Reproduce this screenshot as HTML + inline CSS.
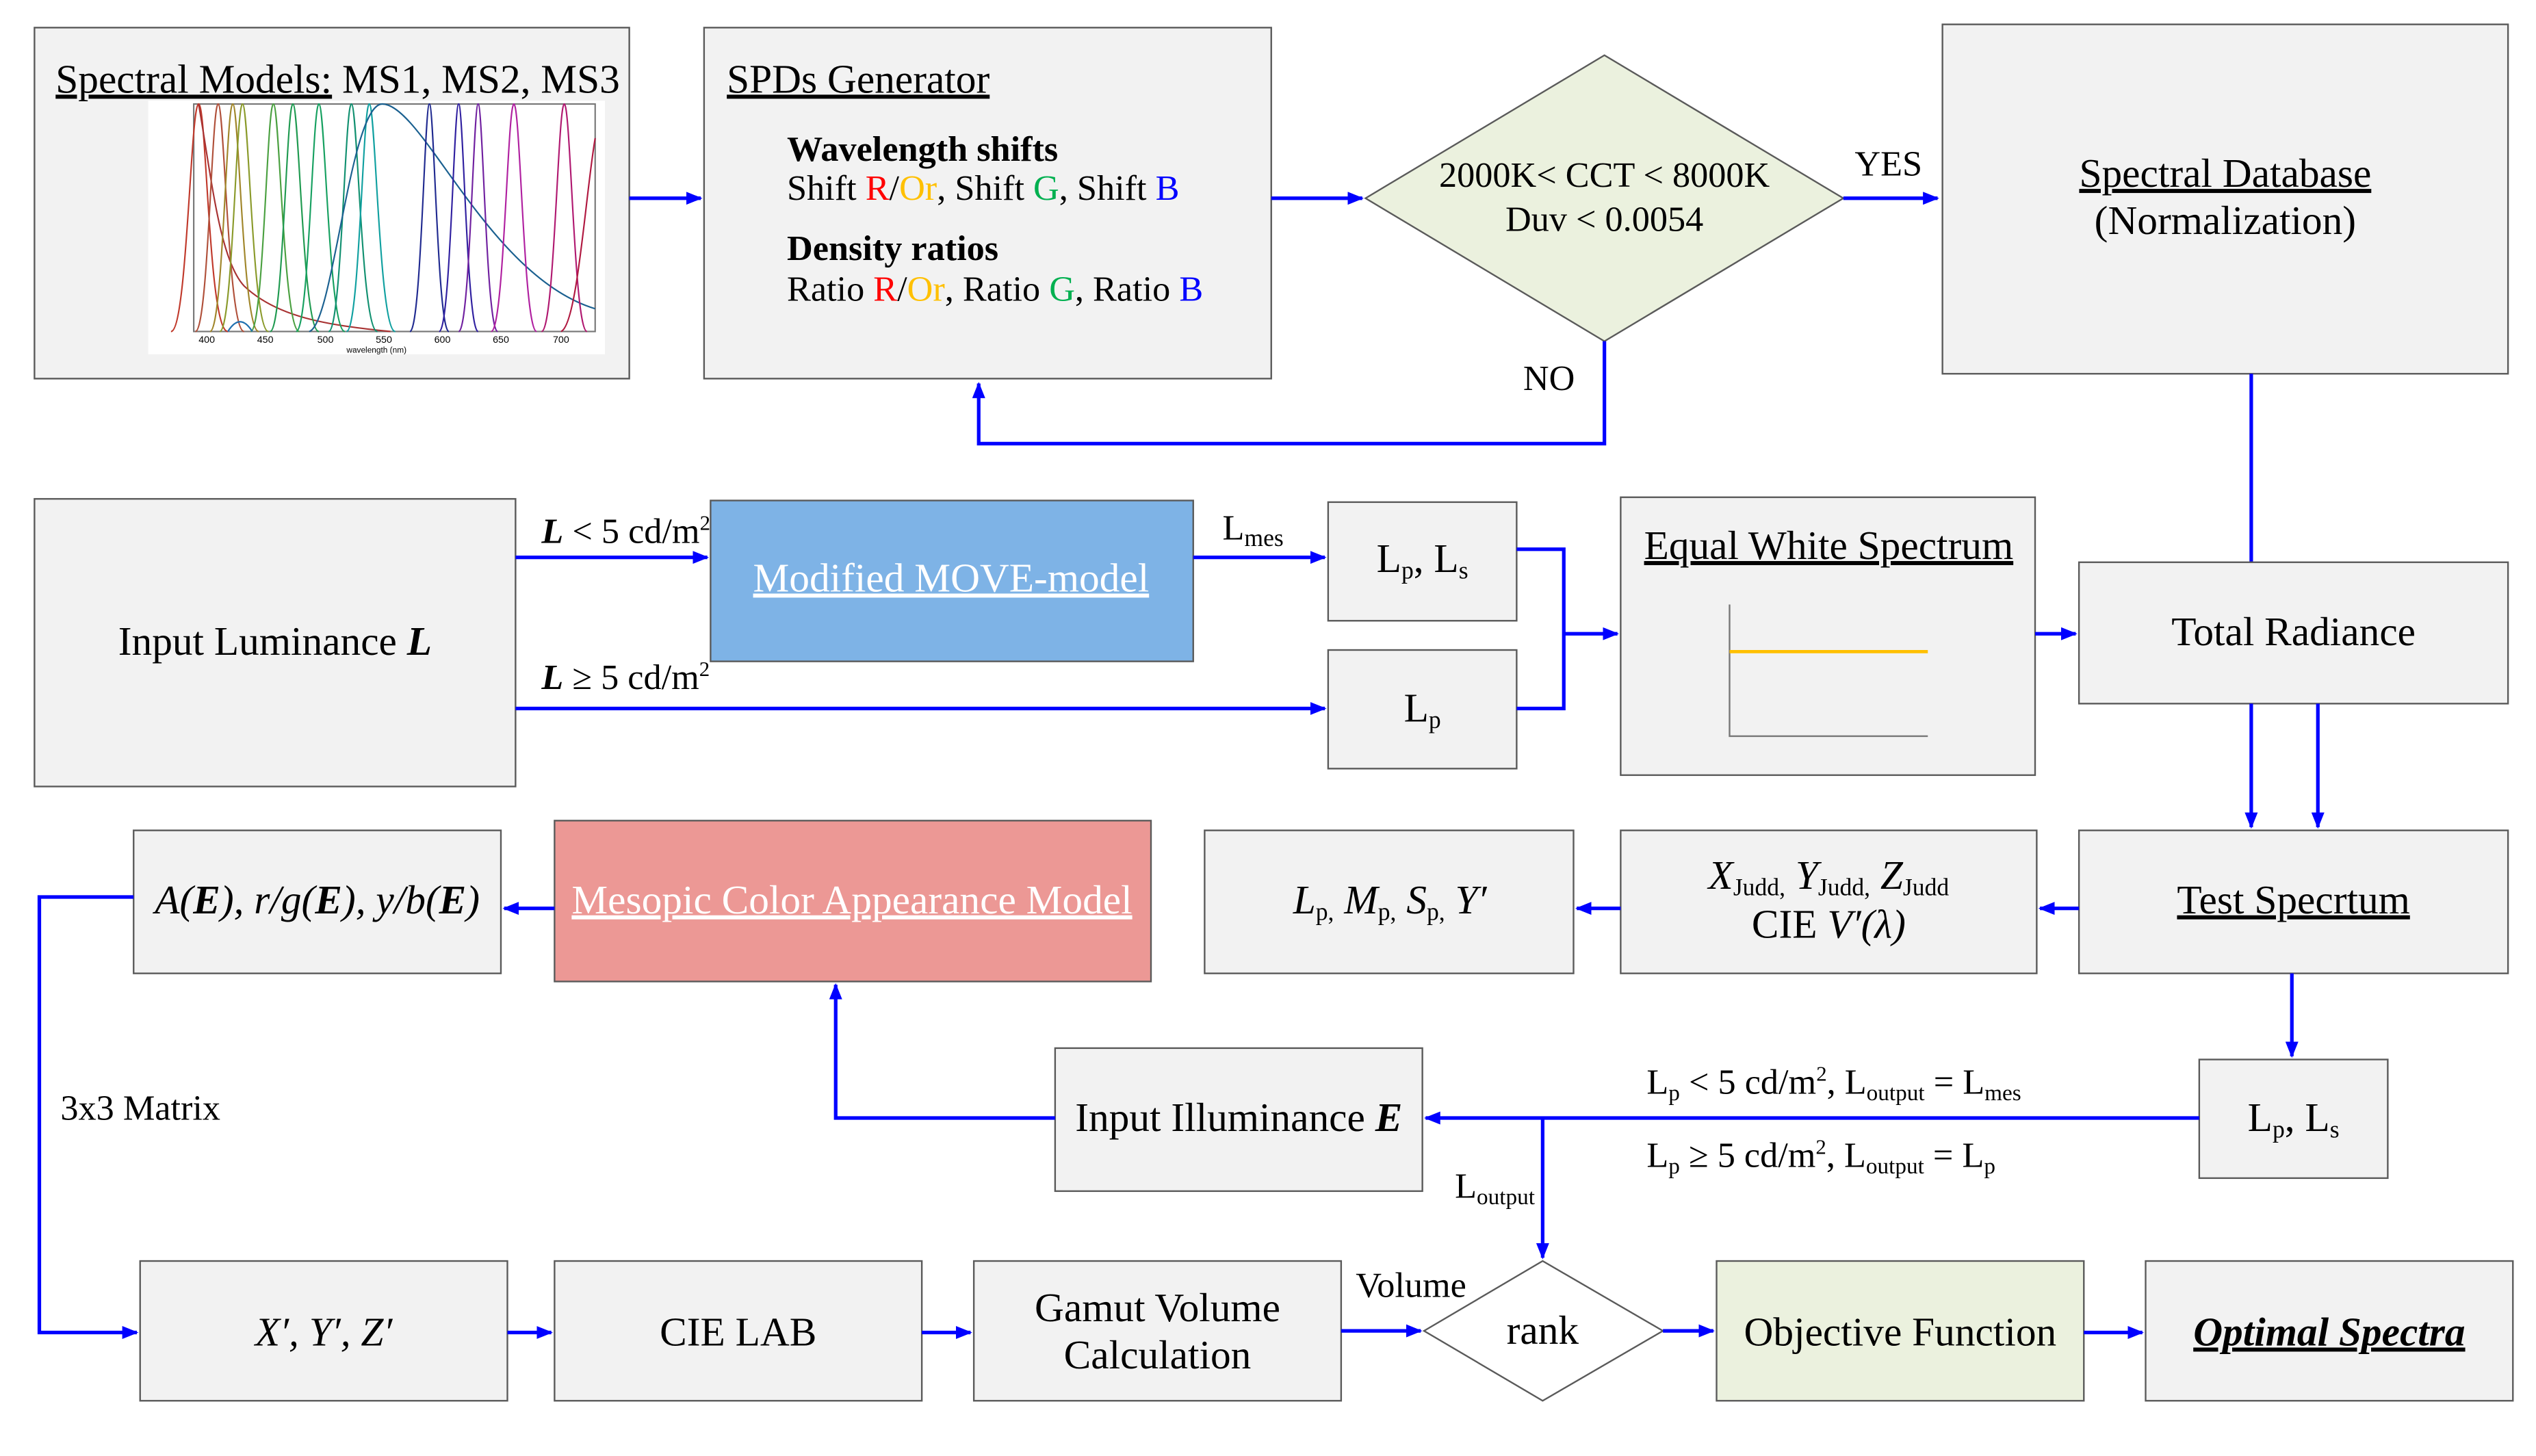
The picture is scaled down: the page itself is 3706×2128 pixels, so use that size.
<!DOCTYPE html>
<html><head><meta charset="utf-8">
<style>
html,body{margin:0;padding:0;background:#fff;}
svg{display:block;font-family:"Liberation Serif","Times New Roman",serif;}
text{font-family:"Liberation Serif","Times New Roman",serif;fill:#000;}
.b{fill:#f2f2f2;stroke:#5a5a5a;stroke-width:1;}
.a{stroke:#0000ff;stroke-width:2.2;fill:none;}
.t{font-size:25px;}
.s{font-size:22px;}
</style></head><body>
<svg width="3706" height="2128" viewBox="0 0 1560 896" xmlns="http://www.w3.org/2000/svg" font-family="Liberation Serif, serif">
<defs>
<marker id="ar" markerWidth="10" markerHeight="8" refX="9" refY="4" orient="auto" markerUnits="userSpaceOnUse">
<path d="M0,0 L10,4 L0,8 z" fill="#0000ff"/></marker>
</defs>

<!-- Row 1 -->
<rect class="b" x="21" y="17" width="366" height="216"/>
<text x="34" y="57" class="t"><tspan text-decoration="underline">Spectral Models:</tspan> MS1, MS2, MS3</text>
<rect x="91" y="62" width="281" height="156" fill="#fff"/>
<g fill="none" stroke-width="0.9">
<rect x="119" y="64" width="247" height="140" stroke="#777"/>
<path d="M105,204 C115,204 117,64 122,64 C127,64 128,204 140,204" stroke="#c0392b"/>
<path d="M122,64 C130,110 135,160 150,176 C170,195 200,200 240,204" stroke="#a83232"/>
<path d="M120,204 C128,204 130,64 134,64 C138,64 140,204 150,204" stroke="#b0503a"/>
<path d="M129,204 C137,204 139,64 143,64 C147,64 149,204 159,204" stroke="#a0862a"/>
<path d="M135,204 C143,204 145,64 149,64 C153,64 155,204 165,204" stroke="#8a9a2a"/>
<path d="M154,204 C162,204 164,64 168,64 C172,64 174,204 184,204" stroke="#4aa040"/>
<path d="M166,204 C174,204 176,64 180,64 C184,64 186,204 196,204" stroke="#1f9a50"/>
<path d="M182,204 C190,204 192,64 196,64 C200,64 202,204 212,204" stroke="#16a060"/>
<path d="M202,204 C210,204 212,64 216,64 C220,64 222,204 232,204" stroke="#119070"/>
<path d="M213,204 C221,204 223,64 227,64 C231,64 233,204 243,204" stroke="#10a0a0"/>
<path d="M140,204 C145,196 150,196 155,204" stroke="#2070b0"/>
<path d="M190,204 C205,200 215,64 235,64 C260,64 300,170 366,190" stroke="#1a6090"/>
<path d="M252,204 C259,204 261,64 264,64 C267,64 269,204 276,204" stroke="#202a90"/>
<path d="M270,204 C277,204 279,64 282,64 C285,64 287,204 294,204" stroke="#3020a0"/>
<path d="M282,204 C289,204 291,64 294,64 C297,64 299,204 306,204" stroke="#7020a0"/>
<path d="M302,204 C310,204 312,64 316,64 C320,64 322,204 330,204" stroke="#b020a0"/>
<path d="M333,204 C341,204 343,64 347,64 C351,64 353,204 361,204" stroke="#b01870"/>
<path d="M345,204 C355,200 360,120 366,85" stroke="#b01840"/>
</g>
<g>
<text x="122" y="211" style="font-family:'Liberation Sans',sans-serif;font-size:6px">400</text>
<text x="158" y="211" style="font-family:'Liberation Sans',sans-serif;font-size:6px">450</text>
<text x="195" y="211" style="font-family:'Liberation Sans',sans-serif;font-size:6px">500</text>
<text x="231" y="211" style="font-family:'Liberation Sans',sans-serif;font-size:6px">550</text>
<text x="267" y="211" style="font-family:'Liberation Sans',sans-serif;font-size:6px">600</text>
<text x="303" y="211" style="font-family:'Liberation Sans',sans-serif;font-size:6px">650</text>
<text x="340" y="211" style="font-family:'Liberation Sans',sans-serif;font-size:6px">700</text>
<text x="213" y="217" style="font-family:'Liberation Sans',sans-serif;font-size:5px">wavelength (nm)</text>
</g>

<rect class="b" x="433" y="17" width="349" height="216"/>
<text x="447" y="57" class="t" text-decoration="underline">SPDs Generator</text>
<text x="484" y="99" class="s" font-weight="bold">Wavelength shifts</text>
<text x="484" y="123" class="s">Shift <tspan fill="#ff0000">R</tspan>/<tspan fill="#ffc000">Or</tspan>, Shift <tspan fill="#00b050">G</tspan>, Shift <tspan fill="#0000ff">B</tspan></text>
<text x="484" y="160" class="s" font-weight="bold">Density ratios</text>
<text x="484" y="185" class="s">Ratio <tspan fill="#ff0000">R</tspan>/<tspan fill="#ffc000">Or</tspan>, Ratio <tspan fill="#00b050">G</tspan>, Ratio <tspan fill="#0000ff">B</tspan></text>

<polygon points="840,122 987,34 1134,122 987,210" fill="#ebf1de" stroke="#5a5a5a"/>
<text x="987" y="115" class="s" text-anchor="middle">2000K&lt; CCT &lt; 8000K</text>
<text x="987" y="142" class="s" text-anchor="middle">Duv &lt; 0.0054</text>

<rect class="b" x="1195" y="15" width="348" height="215"/>
<text x="1369" y="115" class="t" text-anchor="middle" text-decoration="underline">Spectral Database</text>
<text x="1369" y="144" class="t" text-anchor="middle">(Normalization)</text>

<path class="a" d="M387,122 H431" marker-end="url(#ar)"/>
<path class="a" d="M782,122 H838" marker-end="url(#ar)"/>
<path class="a" d="M1134,122 H1192" marker-end="url(#ar)"/>
<text x="1141" y="108" class="s">YES</text>
<path class="a" d="M987,210 V273 H602 V236" marker-end="url(#ar)"/>
<text x="937" y="240" class="s">NO</text>
<path class="a" d="M1385,230 V346"/>

<!-- Row 2 -->
<rect class="b" x="21" y="307" width="296" height="177"/>
<text x="169" y="403" class="t" text-anchor="middle">Input Luminance <tspan font-weight="bold" font-style="italic">L</tspan></text>
<rect x="437" y="308" width="297" height="99" fill="#7eb3e6" stroke="#5a5a5a"/>
<text x="585" y="364" class="t" text-anchor="middle" style="fill:#fff" text-decoration="underline">Modified MOVE-model</text>
<rect class="b" x="817" y="309" width="116" height="73"/>
<text x="875" y="352" class="t" text-anchor="middle">L<tspan font-size="15" dy="4">p</tspan><tspan dy="-4">, L</tspan><tspan font-size="15" dy="4">s</tspan></text>
<rect class="b" x="817" y="400" width="116" height="73"/>
<text x="875" y="444" class="t" text-anchor="middle">L<tspan font-size="15" dy="4">p</tspan></text>
<rect class="b" x="997" y="306" width="255" height="171"/>
<text x="1125" y="344" class="t" text-anchor="middle" text-decoration="underline">Equal White Spectrum</text>
<path d="M1064,372 V453 H1186" stroke="#777" fill="none" stroke-width="1"/>
<path d="M1064,401 H1186" stroke="#ffc000" stroke-width="2" fill="none"/>
<rect class="b" x="1279" y="346" width="264" height="87"/>
<text x="1411" y="397" class="t" text-anchor="middle">Total Radiance</text>

<path class="a" d="M317,343 H435" marker-end="url(#ar)"/>
<text x="333" y="334" class="s"><tspan font-weight="bold" font-style="italic">L</tspan> &lt; 5 cd/m<tspan font-size="13" dy="-8">2</tspan></text>
<path class="a" d="M734,343 H815" marker-end="url(#ar)"/>
<text x="752" y="332" class="s">L<tspan font-size="15" dy="4">mes</tspan></text>
<path class="a" d="M317,436 H815" marker-end="url(#ar)"/>
<text x="333" y="424" class="s"><tspan font-weight="bold" font-style="italic">L</tspan> ≥ 5 cd/m<tspan font-size="13" dy="-8">2</tspan></text>
<path class="a" d="M933,338 H962 V436 H933"/>
<path class="a" d="M962,390 H995" marker-end="url(#ar)"/>
<path class="a" d="M1252,390 H1277" marker-end="url(#ar)"/>
<path class="a" d="M1385,433 V509" marker-end="url(#ar)"/>
<path class="a" d="M1426,433 V509" marker-end="url(#ar)"/>

<!-- Row 3 -->
<rect class="b" x="82" y="511" width="226" height="88"/>
<text x="195" y="562" class="t" text-anchor="middle" font-style="italic">A(<tspan font-weight="bold">E</tspan>), r/g(<tspan font-weight="bold">E</tspan>), y/b(<tspan font-weight="bold">E</tspan>)</text>
<rect x="341" y="505" width="367" height="99" fill="#ec9895" stroke="#5a5a5a"/>
<text x="524" y="562" class="t" text-anchor="middle" style="fill:#fff" text-decoration="underline">Mesopic Color Appearance Model</text>
<rect class="b" x="741" y="511" width="227" height="88"/>
<text x="855" y="562" class="t" text-anchor="middle"><tspan font-style="italic">L</tspan><tspan font-size="15" dy="4">p,</tspan><tspan dy="-4" font-style="italic"> M</tspan><tspan font-size="15" dy="4">p,</tspan><tspan dy="-4" font-style="italic"> S</tspan><tspan font-size="15" dy="4">p,</tspan><tspan dy="-4" font-style="italic"> Y′</tspan></text>
<rect class="b" x="997" y="511" width="256" height="88"/>
<text x="1125" y="547" class="t" text-anchor="middle"><tspan font-style="italic">X</tspan><tspan font-size="15" dy="4">Judd,</tspan><tspan dy="-4" font-style="italic"> Y</tspan><tspan font-size="15" dy="4">Judd,</tspan><tspan dy="-4" font-style="italic"> Z</tspan><tspan font-size="15" dy="4">Judd</tspan></text>
<text x="1125" y="577" class="t" text-anchor="middle">CIE <tspan font-style="italic">V′(λ)</tspan></text>
<rect class="b" x="1279" y="511" width="264" height="88"/>
<text x="1411" y="562" class="t" text-anchor="middle" text-decoration="underline">Test Specrtum</text>

<path class="a" d="M1279,559 H1255" marker-end="url(#ar)"/>
<path class="a" d="M997,559 H970" marker-end="url(#ar)"/>
<path class="a" d="M341,559 H310" marker-end="url(#ar)"/>
<path class="a" d="M82,552 H24 V820 H84" marker-end="url(#ar)"/>
<text x="37" y="689" class="s">3x3 Matrix</text>
<path class="a" d="M1410,599 V650" marker-end="url(#ar)"/>

<rect class="b" x="1353" y="652" width="116" height="73"/>
<text x="1411" y="696" class="t" text-anchor="middle">L<tspan font-size="15" dy="4">p</tspan><tspan dy="-4">, L</tspan><tspan font-size="15" dy="4">s</tspan></text>
<rect class="b" x="649" y="645" width="226" height="88"/>
<text x="762" y="696" class="t" text-anchor="middle">Input Illuminance <tspan font-weight="bold" font-style="italic">E</tspan></text>
<path class="a" d="M1353,688 H877" marker-end="url(#ar)"/>
<text x="1013" y="673" class="s">L<tspan font-size="14" dy="4">p</tspan><tspan dy="-4"> &lt; 5 cd/m</tspan><tspan font-size="13" dy="-8">2</tspan><tspan dy="8">, L</tspan><tspan font-size="14" dy="4">output</tspan><tspan dy="-4"> = L</tspan><tspan font-size="14" dy="4">mes</tspan></text>
<text x="1013" y="718" class="s">L<tspan font-size="14" dy="4">p</tspan><tspan dy="-4"> ≥ 5 cd/m</tspan><tspan font-size="13" dy="-8">2</tspan><tspan dy="8">, L</tspan><tspan font-size="14" dy="4">output</tspan><tspan dy="-4"> = L</tspan><tspan font-size="14" dy="4">p</tspan></text>
<path class="a" d="M949,688 V774" marker-end="url(#ar)"/>
<text x="895" y="737" class="s">L<tspan font-size="14" dy="4">output</tspan></text>
<path class="a" d="M649,688 H514 V606" marker-end="url(#ar)"/>

<!-- Row 4 -->
<rect class="b" x="86" y="776" width="226" height="86"/>
<text x="199" y="828" class="t" text-anchor="middle" font-style="italic">X′, Y′, Z′</text>
<rect class="b" x="341" y="776" width="226" height="86"/>
<text x="454" y="828" class="t" text-anchor="middle">CIE LAB</text>
<rect class="b" x="599" y="776" width="226" height="86"/>
<text x="712" y="813" class="t" text-anchor="middle">Gamut Volume</text>
<text x="712" y="842" class="t" text-anchor="middle">Calculation</text>
<polygon points="876,819 949,776 1023,819 949,862" fill="#fff" stroke="#5a5a5a"/>
<text x="949" y="827" class="t" text-anchor="middle">rank</text>
<rect x="1056" y="776" width="226" height="86" fill="#ebf1de" stroke="#5a5a5a"/>
<text x="1169" y="828" class="t" text-anchor="middle">Objective Function</text>
<rect class="b" x="1320" y="776" width="226" height="86"/>
<text x="1433" y="828" class="t" text-anchor="middle" font-weight="bold" font-style="italic" text-decoration="underline">Optimal Spectra</text>

<path class="a" d="M312,820 H339" marker-end="url(#ar)"/>
<path class="a" d="M567,820 H597" marker-end="url(#ar)"/>
<path class="a" d="M825,819 H874" marker-end="url(#ar)"/>
<text x="834" y="798" class="s">Volume</text>
<path class="a" d="M1023,819 H1054" marker-end="url(#ar)"/>
<path class="a" d="M1282,820 H1318" marker-end="url(#ar)"/>
</svg>
</body></html>
